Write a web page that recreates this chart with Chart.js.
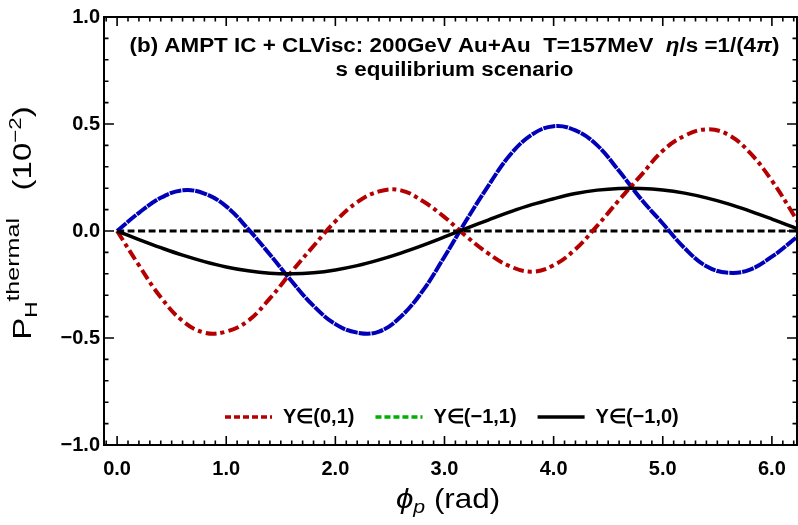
<!DOCTYPE html>
<html>
<head>
<meta charset="utf-8">
<script src="https://cdn.jsdelivr.net/npm/chart.js@4.4.1/dist/chart.umd.min.js"></script>
<style>
  html, body { margin: 0; padding: 0; background: #fff; }
  #wrap { width: 798px; height: 525px; }
</style>
</head>
<body>
<div id="wrap"><canvas id="chart" width="798" height="525"></canvas></div>
<script>
// azimuthal angle of the particle (rad)
const phi = [0, 0.2, 0.4, 0.6, 0.8, 1.0, 1.2, 1.4, 1.6, 1.8, 2.0, 2.2, 2.4, 2.6, 2.8, 3.0,
             3.2, 3.4, 3.6, 3.8, 4.0, 4.2, 4.4, 4.6, 4.8, 5.0, 5.2, 5.4, 5.6, 5.8, 6.0, 6.2, 6.2832];

// P_H^thermal in units of 1e-2
const forwardY = [0, -0.16, -0.31, -0.42, -0.475, -0.47, -0.42, -0.315, -0.19, -0.07, 0.045,
                  0.135, 0.185, 0.19, 0.14, 0.065, -0.025, -0.105, -0.165, -0.19, -0.16, -0.085,
                  0.025, 0.145, 0.26, 0.375, 0.445, 0.475, 0.45, 0.365, 0.235, 0.075, 0];
const backwardY = [0, 0.085, 0.155, 0.19, 0.175, 0.115, 0.01, -0.11, -0.235, -0.35, -0.435,
                   -0.475, -0.47, -0.40, -0.28, -0.12, 0.05, 0.21, 0.355, 0.45, 0.49, 0.47,
                   0.40, 0.28, 0.15, 0.035, -0.08, -0.165, -0.195, -0.18, -0.12, -0.04, 0];
const negHalfY = [0, -0.04, -0.078, -0.113, -0.143, -0.168, -0.186, -0.197, -0.2, -0.195, -0.182,
                  -0.162, -0.135, -0.103, -0.067, -0.028, 0.012, 0.051, 0.089, 0.123, 0.151, 0.175,
                  0.191, 0.199, 0.199, 0.192, 0.177, 0.155, 0.127, 0.093, 0.056, 0.017, 0];
const zeroY = phi.map(() => 0);

const xTicks = [0, 1, 2, 3, 4, 5, 6];
const yTicks = [-1, -0.5, 0, 0.5, 1];

const FONT = "'Liberation Sans', Arial, sans-serif";

function pts(ys) {
    return phi.map((x, i) => ({x: x, y: ys[i]}));
}

// draw a list of text runs [text, font, dy] one after another
function drawRuns(ctx, runs, x, y) {
    let cx = x;
    for (const r of runs) {
        ctx.font = r[1];
        ctx.fillText(r[0], cx, y + (r[2] || 0));
        cx += ctx.measureText(r[0]).width;
    }
    return cx - x;
}
function runsWidth(ctx, runs) {
    let w = 0;
    for (const r of runs) {
        ctx.font = r[1];
        w += ctx.measureText(r[0]).width;
    }
    return w;
}
// runs centred on (cx, cy), stretched sideways by sx
function drawCentered(ctx, runs, cx, cy, sx) {
    ctx.save();
    ctx.translate(cx, cy);
    ctx.scale(sx, 1);
    drawRuns(ctx, runs, -runsWidth(ctx, runs) / 2, 0);
    ctx.restore();
}

const decorations = {
    id: 'decorations',
    afterDraw(chart) {
        const {ctx, chartArea: a, scales: {x, y}} = chart;
        ctx.save();
        ctx.strokeStyle = '#000';
        ctx.fillStyle = '#000';

        // inward ticks on all four sides
        ctx.lineWidth = 1.6;
        ctx.beginPath();
        for (let i = -1; i <= 62; i++) {
            const px = x.getPixelForValue(i / 10);
            if (px < a.left || px > a.right) continue;
            const len = i % 10 === 0 ? 9 : 4.5;
            ctx.moveTo(px, a.bottom); ctx.lineTo(px, a.bottom - len);
            ctx.moveTo(px, a.top); ctx.lineTo(px, a.top + len);
        }
        for (let i = -10; i <= 10; i++) {
            const py = y.getPixelForValue(i / 10);
            const len = i % 5 === 0 ? 10 : 4.5;
            ctx.moveTo(a.left, py); ctx.lineTo(a.left + len, py);
            ctx.moveTo(a.right, py); ctx.lineTo(a.right - len, py);
        }
        ctx.stroke();

        ctx.lineWidth = 2;
        ctx.strokeRect(a.left, a.top, a.right - a.left, a.bottom - a.top);

        // title inside the frame
        const mid = (a.left + a.right) / 2 + 4;
        ctx.textBaseline = 'middle';
        ctx.textAlign = 'left';
        const b = 'bold 20px ' + FONT;
        const bi = 'italic bold 20px ' + FONT;
        drawCentered(ctx, [['(b) AMPT IC + CLVisc: 200GeV Au+Au  T=157MeV  ', b], ['\u03b7', bi],
                           ['/s =1/(4', b], ['\u03c0', bi], [')', b]], mid, 46, 1.12);
        drawCentered(ctx, [['s equilibrium scenario', b]], mid, 70, 1.12);

        // legend
        const lf = 'bold 20px ' + FONT;
        let lx = 225;
        const ly = 417;
        chart.data.datasets.forEach(ds => {
            if (!ds.label) return;
            ctx.save();
            ctx.strokeStyle = ds.borderColor;
            ctx.lineWidth = 3.5;
            ctx.setLineDash(ds.legendDash || []);
            ctx.beginPath();
            ctx.moveTo(lx, ly); ctx.lineTo(lx + 47, ly);
            ctx.stroke();
            ctx.restore();
            lx += 47 + 11;
            ctx.font = lf;
            ctx.fillText(ds.label, lx, ly);
            lx += ctx.measureText(ds.label).width + 21;
        });

        // x axis title
        drawCentered(ctx, [['\u03d5', 'italic 28px ' + FONT], ['p', 'italic 19px ' + FONT, 8],
                           [' (rad)', '28px ' + FONT]], 448, 500, 1.12);

        // y axis title, rotated
        ctx.translate(31, 223);
        ctx.rotate(-Math.PI / 2);
        ctx.textBaseline = 'alphabetic';
        drawCentered(ctx, [['P', '25px ' + FONT], ['H', '17px ' + FONT, 6], ['thermal', '19px ' + FONT, -12],
                           ['   (10', '25px ' + FONT], ['\u22122', '17px ' + FONT, -10], [')', '25px ' + FONT]],
                     0, 0, 1.32);
        ctx.restore();
    }
};

new Chart(document.getElementById('chart'), {
    type: 'line',
    data: {
        datasets: [
            {
                data: pts(zeroY),
                borderColor: '#000',
                borderWidth: 3,
                borderDash: [7, 3.5],
                order: 5
            },
            {
                data: pts(backwardY),
                borderColor: 'rgb(0, 0, 185)',
                borderWidth: 4,
                borderDash: [12, 1],
                order: 4
            },
            {
                label: 'Y\u2208(0,1)',
                data: pts(forwardY),
                borderColor: 'rgb(180, 0, 0)',
                borderWidth: 4,
                borderDash: [11, 4, 4, 4],
                legendDash: [6, 3],
                order: 3
            },
            {
                label: 'Y\u2208(\u22121,1)',
                data: [],
                borderColor: 'rgb(0, 175, 0)',
                borderWidth: 4,
                legendDash: [6, 3],
                order: 2
            },
            {
                label: 'Y\u2208(\u22121,0)',
                data: pts(negHalfY),
                borderColor: '#000',
                borderWidth: 3.5,
                order: 1
            }
        ]
    },
    options: {
        responsive: false,
        animation: false,
        clip: 0,
        elements: {
            point: { radius: 0 },
            line: { tension: 0.4, borderCapStyle: 'butt' }
        },
        layout: { padding: { top: 17, right: 1, left: 0, bottom: 0 } },
        plugins: {
            legend: { display: false },
            tooltip: { enabled: false }
        },
        scales: {
            x: {
                type: 'linear',
                min: -0.12,
                max: 6.23,
                afterFit: s => { s.height = 80; },
                afterBuildTicks: s => { s.ticks = xTicks.map(v => ({value: v})); },
                grid: { display: false, drawTicks: false },
                border: { display: false },
                ticks: {
                    padding: 12,
                    color: '#000',
                    font: { family: FONT, size: 20, weight: 'bold' },
                    callback: v => v.toFixed(1)
                }
            },
            y: {
                type: 'linear',
                min: -1,
                max: 1,
                afterFit: s => { s.width = 104; },
                afterBuildTicks: s => { s.ticks = yTicks.map(v => ({value: v})); },
                grid: { display: false, drawTicks: false },
                border: { display: false },
                ticks: {
                    padding: 4,
                    color: '#000',
                    font: { family: FONT, size: 20, weight: 'bold' },
                    callback: v => (v < 0 ? '\u2212' + Math.abs(v).toFixed(1) : v.toFixed(1))
                }
            }
        }
    },
    plugins: [decorations]
});
</script>
</body>
</html>
